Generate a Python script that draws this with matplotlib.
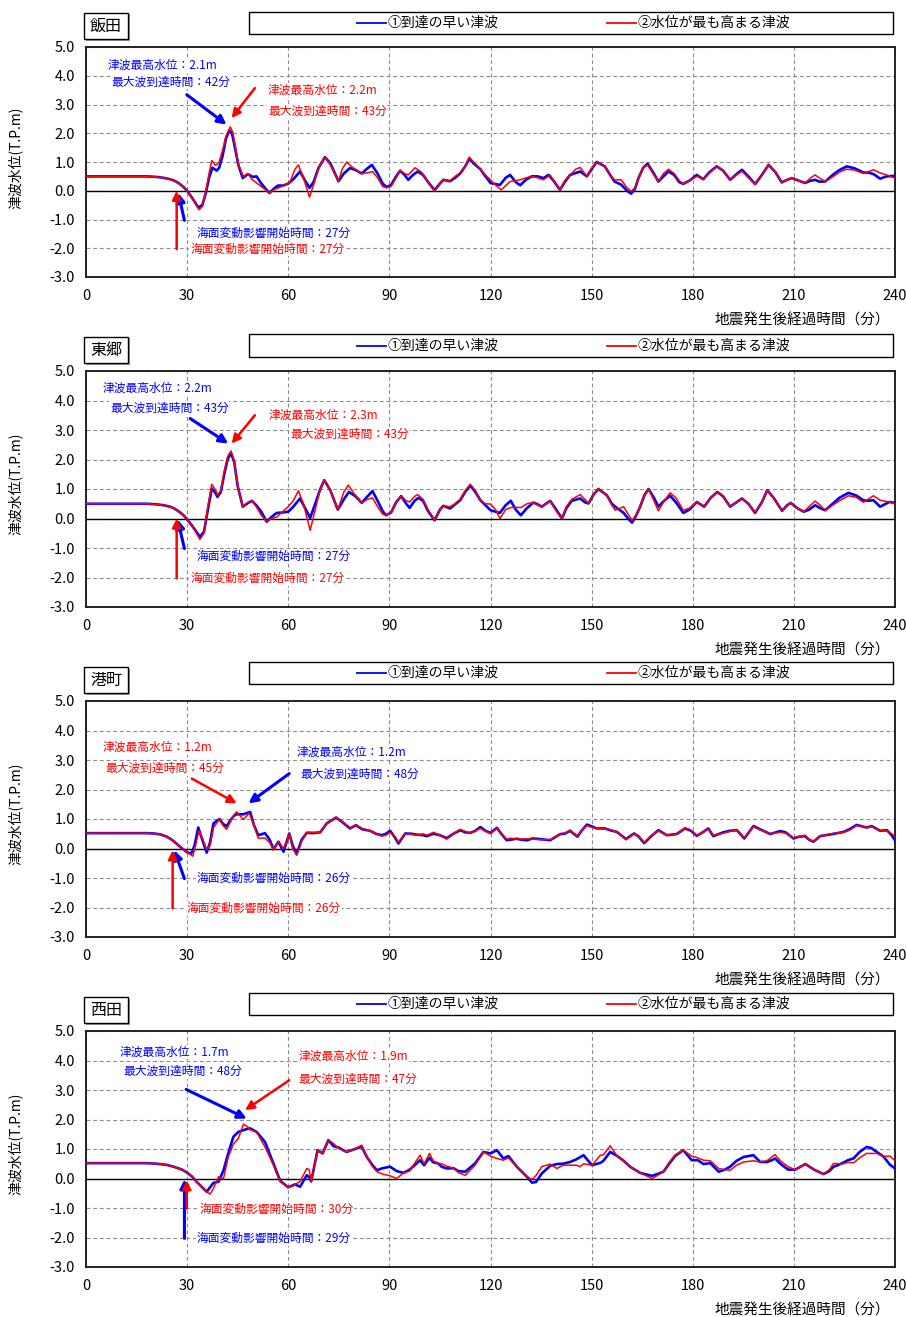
import matplotlib
matplotlib.use("Agg")
import matplotlib.pyplot as plt
from matplotlib.patches import Rectangle
from matplotlib.lines import Line2D

plt.rcParams['font.family'] = ['Noto Sans CJK JP', 'DejaVu Sans']

# ---- data (time in minutes, water level in T.P.m) ----
stations = ["飯田", "東郷", "港町", "西田"]
legend_labels = ["①到達の早い津波", "②水位が最も高まる津波"]
x_ticks = [0, 30, 60, 90, 120, 150, 180, 210, 240]
y_ticks = [-3, -2, -1, 0, 1, 2, 3, 4, 5]

iida_early = [
    (0, 0.5), (10, 0.5), (18, 0.5), (21, 0.48), (23, 0.45), (25, 0.4), (26, 0.36), (27, 0.3),
    (28, 0.22), (29, 0.12), (30, 0.0),
    (31.5, -0.25), (33.3, -0.58), (34.5, -0.5), (35.5, -0.1), (36.5, 0.45), (37.5, 0.8),
    (38.8, 0.7), (39.5, 0.8), (40.5, 1.2), (41.5, 1.8), (42.5, 2.1), (43.3, 2.0), (44.2, 1.5),
    (45.2, 0.9), (46.5, 0.44), (48, 0.58), (49.5, 0.48), (50.6, 0.5), (52, 0.25), (54.4, -0.08),
    (56, 0.1), (57, 0.18), (58.5, 0.18), (60, 0.25), (61.5, 0.4), (63.5, 0.67), (65, 0.35),
    (66.3, 0.1), (67.5, 0.3), (69, 0.8), (70.9, 1.17), (72.5, 0.95), (74.9, 0.33), (76.5, 0.6),
    (78.3, 0.79), (80, 0.72), (81.8, 0.6), (83.2, 0.75), (84.8, 0.9), (86.5, 0.6), (88, 0.25),
    (89.2, 0.13), (90.5, 0.2), (92, 0.5), (93.2, 0.7), (94.5, 0.55), (95.6, 0.38), (97, 0.55),
    (98.4, 0.67), (100, 0.55), (101.5, 0.3), (103.4, 0.02), (105, 0.25), (106, 0.38), (108, 0.33),
    (109.5, 0.45), (111, 0.6), (112.5, 0.85), (113.7, 1.12), (115, 0.95), (117, 0.75),
    (118.5, 0.5), (120, 0.27), (122.8, 0.2), (124.5, 0.45), (125.8, 0.55), (127.5, 0.3),
    (128.8, 0.19), (130.5, 0.38), (132.2, 0.5), (134, 0.5), (135.7, 0.44), (137.2, 0.55),
    (138.7, 0.35), (140.6, 0.03), (142, 0.3), (143.6, 0.55), (146.6, 0.67), (148.6, 0.5),
    (150, 0.75), (151.5, 1.0), (153.9, 0.85), (155.5, 0.55), (156.8, 0.32), (158.8, 0.21),
    (160.5, 0.0), (161.7, -0.1), (162.8, 0.05), (163.9, 0.44), (165.3, 0.8), (166.6, 0.94),
    (168.2, 0.65), (169.8, 0.32), (171.3, 0.5), (172.8, 0.67), (174.5, 0.55), (176, 0.3),
    (177.2, 0.24), (179, 0.35), (181.2, 0.55), (183.1, 0.4), (185, 0.65), (187.1, 0.85),
    (189, 0.7), (191.1, 0.38), (193, 0.58), (194.6, 0.73), (196.5, 0.5), (198.5, 0.23),
    (200.5, 0.55), (202.5, 0.9), (204.5, 0.65), (206.4, 0.29), (208, 0.38), (209.4, 0.44),
    (211.5, 0.35), (213.3, 0.27), (215, 0.35), (216.3, 0.38), (217.5, 0.32), (219.3, 0.32),
    (221.5, 0.55), (223.5, 0.72), (225.7, 0.85), (228, 0.78), (230.6, 0.64), (232.5, 0.62),
    (233.6, 0.58), (235.6, 0.42), (237.5, 0.5), (240, 0.52),
]
iida_high = [
    (0, 0.5), (10, 0.5), (18, 0.5), (21, 0.48), (23, 0.45), (25, 0.4), (26, 0.36), (27, 0.3),
    (28, 0.22), (29, 0.12), (30, 0.0),
    (31.5, -0.25), (33.5, -0.66), (34.5, -0.55), (35.5, -0.05), (36.5, 0.6), (37.3, 1.05),
    (38.5, 0.88), (39.5, 1.0), (40.5, 1.4), (41.5, 1.9), (42.8, 2.22), (43.5, 2.05), (44.3, 1.55),
    (45.2, 0.9), (46.7, 0.5), (48, 0.6), (49.2, 0.4), (50.6, 0.27), (52, 0.15), (54.4, -0.08),
    (56, 0.05), (57.5, 0.12), (59, 0.2), (60.5, 0.3), (62, 0.75), (63, 0.9), (64.5, 0.45),
    (66.3, -0.22), (67.5, 0.2), (69, 0.8), (70.9, 1.17), (72.5, 0.9), (74.9, 0.33), (76, 0.75),
    (77.3, 1.0), (79, 0.82), (81.8, 0.6), (83.5, 0.62), (85, 0.67), (86.5, 0.45), (88, 0.15),
    (89.2, 0.1), (90.5, 0.15), (92, 0.45), (93.2, 0.7), (94.5, 0.6), (95.6, 0.55), (97.6, 0.8),
    (99.5, 0.65), (101.5, 0.3), (103.4, -0.02), (105, 0.25), (106, 0.38), (108, 0.35),
    (109.5, 0.5), (111, 0.62), (112.5, 0.85), (113.7, 1.17), (115, 1.0), (117, 0.75),
    (118.5, 0.55), (120, 0.38), (121, 0.25), (123.2, 0.03), (125.8, 0.32), (128.8, 0.38),
    (130.5, 0.45), (132.2, 0.5), (134, 0.45), (135.7, 0.38), (137.7, 0.55), (139, 0.3),
    (140.6, 0.03), (142, 0.35), (143.6, 0.55), (145.3, 0.75), (146.6, 0.81), (148.6, 0.5),
    (150, 0.8), (151.5, 0.98), (153.9, 0.85), (155.5, 0.55), (156.8, 0.38), (158.8, 0.38),
    (160.5, 0.1), (161.7, -0.02), (162.8, 0.1), (163.9, 0.44), (165.3, 0.8), (166.6, 0.9),
    (168.2, 0.6), (169.8, 0.32), (171.3, 0.6), (172.8, 0.75), (174.5, 0.6), (176, 0.35),
    (177.2, 0.24), (179, 0.35), (181.2, 0.5), (183.1, 0.4), (185, 0.62), (187.1, 0.85),
    (189, 0.7), (191.1, 0.38), (193, 0.55), (194.6, 0.68), (196.5, 0.45), (198.5, 0.23),
    (200.5, 0.55), (202.5, 0.9), (204.5, 0.65), (206.4, 0.29), (208, 0.38), (209.4, 0.44),
    (211.5, 0.35), (213.3, 0.27), (215, 0.45), (216.3, 0.55), (217.5, 0.45), (219.3, 0.32),
    (221.5, 0.48), (223.5, 0.65), (225.7, 0.75), (228, 0.72), (230.6, 0.6), (232.5, 0.68),
    (233.6, 0.73), (235.6, 0.62), (237.5, 0.55), (240, 0.44),
]

togo_early = [
    (0, 0.5), (10, 0.5), (18, 0.5), (21, 0.48), (23, 0.45), (25, 0.4), (26, 0.35), (27, 0.28),
    (28, 0.2), (29, 0.1), (30, -0.03),
    (31.5, -0.25), (33.8, -0.62), (35, -0.45), (36, 0.2), (37.3, 1.02), (38.5, 0.85), (39, 0.73),
    (40, 0.9), (41, 1.5), (42, 2.0), (43, 2.23), (44, 1.9), (45, 1.1), (46.5, 0.4), (48, 0.52),
    (49.2, 0.6), (50.5, 0.45), (52, 0.23), (53.6, -0.11), (55, 0.05), (56.6, 0.19), (58, 0.2),
    (60, 0.23), (61.5, 0.4), (63.5, 0.68), (65, 0.35), (66.5, 0.02), (68, 0.5), (69.5, 1.0),
    (70.7, 1.3), (72.5, 0.95), (74.7, 0.3), (76.5, 0.65), (78, 0.9), (80, 0.75), (81.8, 0.53),
    (83.5, 0.75), (85, 0.93), (86.5, 0.6), (88, 0.25), (89, 0.11), (90.5, 0.2), (92, 0.55),
    (93.5, 0.76), (95, 0.5), (96, 0.36), (97.5, 0.6), (98.6, 0.7), (100, 0.6), (101.5, 0.25),
    (103.4, -0.06), (105, 0.3), (106, 0.43), (108, 0.34), (109.5, 0.48), (111, 0.62),
    (112.5, 0.9), (114, 1.12), (115.5, 0.9), (117, 0.62), (118.5, 0.45), (120, 0.28),
    (122.8, 0.19), (124.5, 0.45), (126, 0.6), (127.5, 0.3), (129, 0.11), (130.8, 0.35),
    (132.7, 0.54), (134, 0.48), (135.2, 0.4), (137.7, 0.6), (139.5, 0.3), (141.2, 0.0),
    (142.5, 0.35), (144.1, 0.6), (146.6, 0.68), (148, 0.55), (149.1, 0.51), (150.5, 0.8),
    (152, 1.0), (154.5, 0.79), (156, 0.5), (157, 0.4), (159.5, 0.19), (160.8, 0.0), (162, -0.14),
    (163.2, 0.1), (164.4, 0.4), (165.7, 0.8), (166.9, 1.0), (168.5, 0.7), (169.8, 0.4),
    (171.5, 0.6), (173.3, 0.77), (175, 0.55), (177.2, 0.19), (179, 0.3), (181.2, 0.56),
    (183.4, 0.4), (185.3, 0.7), (187.3, 0.9), (189, 0.75), (191.1, 0.4), (193, 0.55),
    (194.6, 0.68), (196.5, 0.5), (198.5, 0.19), (200.5, 0.55), (202.1, 0.96), (204, 0.7),
    (206.5, 0.26), (208, 0.45), (209.1, 0.53), (211, 0.35), (212.9, 0.23), (214.5, 0.3),
    (216.3, 0.45), (217.8, 0.35), (219.3, 0.28), (221.5, 0.5), (223.5, 0.7), (226.2, 0.87),
    (228.5, 0.78), (230.6, 0.62), (232, 0.6), (233.6, 0.62), (235.6, 0.4), (238.3, 0.56),
    (240, 0.53),
]
togo_high = [
    (0, 0.5), (10, 0.5), (18, 0.5), (21, 0.48), (23, 0.45), (25, 0.4), (26, 0.35), (27, 0.28),
    (28, 0.2), (29, 0.1), (30, -0.03),
    (31.5, -0.25), (33.8, -0.71), (35, -0.5), (36, 0.3), (37.3, 1.16), (38.5, 0.95), (39, 0.79),
    (40, 0.95), (41, 1.6), (42, 2.1), (43, 2.29), (44, 1.95), (45, 1.1), (46.5, 0.4), (48, 0.55),
    (49.2, 0.6), (50.5, 0.4), (52, 0.11), (53.6, -0.11), (55, 0.0), (56.6, 0.05), (58, 0.2),
    (60, 0.4), (61.5, 0.6), (63, 0.94), (64.5, 0.5), (66.5, -0.4), (68, 0.3), (69.5, 1.0),
    (70.7, 1.3), (72.5, 0.95), (74.7, 0.3), (76.5, 0.9), (77.8, 1.13), (79.5, 0.85),
    (81.8, 0.53), (83.5, 0.65), (85, 0.7), (86.5, 0.4), (88, 0.15), (89, 0.11), (90.5, 0.2),
    (92, 0.55), (93.5, 0.76), (95, 0.6), (96, 0.56), (97.5, 0.75), (98.4, 0.81), (100, 0.65),
    (101.5, 0.3), (103.4, -0.06), (105, 0.3), (106, 0.43), (108, 0.4), (109.5, 0.5), (111, 0.65),
    (112.5, 0.95), (114, 1.16), (115.5, 0.95), (117, 0.62), (118.5, 0.5), (120, 0.49),
    (121.5, 0.3), (122.8, 0.0), (124.5, 0.3), (126, 0.37), (127.5, 0.38), (129, 0.37),
    (130.8, 0.5), (132.7, 0.54), (134, 0.45), (135.2, 0.4), (137.7, 0.6), (139.5, 0.25),
    (141.2, 0.0), (142.5, 0.4), (144.1, 0.65), (146.6, 0.81), (148, 0.65), (149.1, 0.51),
    (150.5, 0.8), (152, 1.02), (154.5, 0.79), (156, 0.45), (157, 0.28), (159.5, 0.4),
    (160.8, 0.15), (162, -0.06), (163.2, 0.1), (164.4, 0.4), (165.7, 0.8), (166.9, 1.0),
    (168.5, 0.6), (169.8, 0.26), (171.5, 0.6), (173.3, 0.87), (175, 0.7), (177.2, 0.28),
    (179, 0.35), (181.2, 0.56), (183.4, 0.4), (185.3, 0.7), (187.3, 0.9), (189, 0.75),
    (191.1, 0.4), (193, 0.55), (194.6, 0.68), (196.5, 0.5), (198.5, 0.19), (200.5, 0.55),
    (202.1, 0.96), (204, 0.7), (206.5, 0.26), (208, 0.45), (209.1, 0.53), (211, 0.35),
    (212.9, 0.23), (214.5, 0.4), (216.3, 0.59), (217.8, 0.45), (219.3, 0.28), (221.5, 0.45),
    (223.5, 0.6), (226.2, 0.77), (228.5, 0.72), (230.6, 0.55), (232, 0.65), (233.6, 0.77),
    (235.6, 0.62), (238.3, 0.56), (240, 0.49),
]

minato_early = [
    (0, 0.52), (10, 0.52), (18, 0.52), (20, 0.51), (22, 0.48), (23, 0.44), (24, 0.4), (25, 0.33),
    (26, 0.25), (27, 0.15), (28, 0.05),
    (30, -0.13), (31.2, -0.17), (32.2, 0.1), (33.3, 0.71), (34.5, 0.3), (35.8, -0.14),
    (36.8, 0.2), (37.8, 0.85), (39.6, 1.0), (40.5, 0.85), (41.7, 0.75), (42.8, 0.95), (44, 1.12),
    (44.7, 1.16), (46.7, 1.16), (48.7, 1.24), (49.8, 0.8), (51.1, 0.45), (53.1, 0.52),
    (54.5, 0.3), (55.6, -0.03), (57.1, 0.23), (58.6, -0.11), (60.3, 0.51), (61.3, 0.1),
    (62.5, -0.18), (64, 0.3), (65.5, 0.53), (67.5, 0.52), (69.5, 0.55), (71.4, 0.85),
    (74.2, 1.05), (76, 0.9), (78.3, 0.68), (80.1, 0.79), (82, 0.65), (84.3, 0.6), (86, 0.5),
    (87.7, 0.45), (89, 0.5), (90.2, 0.6), (91.5, 0.4), (92.7, 0.17), (94.7, 0.51), (96.5, 0.5),
    (98.1, 0.47), (100, 0.45), (101.1, 0.42), (103.1, 0.5), (105, 0.45), (107, 0.35),
    (109, 0.5), (111, 0.62), (112.5, 0.55), (114, 0.53), (115.5, 0.6), (117, 0.73),
    (118.5, 0.6), (120, 0.53), (121.9, 0.7), (123.2, 0.5), (124.8, 0.28), (126, 0.3),
    (127.8, 0.33), (129, 0.3), (130.8, 0.28), (132.5, 0.34), (134.7, 0.32), (137.7, 0.28),
    (140.7, 0.49), (142, 0.5), (143.6, 0.6), (145.8, 0.4), (147, 0.6), (148.6, 0.81),
    (150, 0.75), (151.5, 0.68), (153.9, 0.68), (155.5, 0.62), (157.5, 0.56), (160.2, 0.32),
    (162.6, 0.51), (164, 0.4), (165.6, 0.18), (167.5, 0.4), (169.8, 0.62), (172.3, 0.45),
    (175.2, 0.49), (177.7, 0.68), (179.5, 0.6), (181.2, 0.43), (183, 0.55), (184.6, 0.68),
    (186.1, 0.42), (189.1, 0.55), (191, 0.6), (193.1, 0.62), (195.3, 0.34), (198, 0.76),
    (200, 0.65), (203, 0.49), (205.9, 0.59), (207.5, 0.55), (209.9, 0.34), (211.5, 0.4),
    (213.3, 0.42), (214.5, 0.3), (215.8, 0.23), (217.8, 0.42), (221, 0.48), (224.7, 0.56),
    (226.5, 0.65), (228.6, 0.8), (231.6, 0.71), (233.1, 0.76), (235.6, 0.6), (237.6, 0.62),
    (239, 0.45), (240, 0.28),
]
minato_high = [
    (0, 0.52), (10, 0.52), (18, 0.52), (20, 0.51), (22, 0.48), (23, 0.44), (24, 0.4), (25, 0.33),
    (26, 0.25), (27, 0.15), (28, 0.05),
    (30, -0.13), (31.7, -0.26), (32.5, 0.1), (33.5, 0.6), (34.5, 0.35), (35.8, -0.03),
    (36.8, 0.1), (37.8, 0.7), (39.6, 1.0), (40.5, 0.8), (41.7, 0.65), (42.8, 0.9), (44, 1.15),
    (44.7, 1.24), (46.7, 0.98), (48.4, 1.2), (49.8, 0.8), (51.1, 0.35), (53.1, 0.35),
    (54.5, 0.2), (55.6, -0.05), (57.1, 0.23), (58.6, 0.0), (60.3, 0.5), (61.3, 0.0),
    (62.5, -0.23), (64, 0.25), (65.5, 0.55), (67.5, 0.55), (69.5, 0.55), (71.4, 0.85),
    (74.2, 1.05), (76, 0.92), (78.3, 0.7), (80.1, 0.79), (82, 0.68), (84.3, 0.6), (86, 0.5),
    (87.7, 0.42), (89, 0.45), (90.2, 0.55), (91.5, 0.42), (92.7, 0.22), (94.7, 0.5),
    (96.5, 0.48), (98.1, 0.45), (100, 0.5), (101.1, 0.45), (103.1, 0.55), (105, 0.45),
    (107, 0.32), (109, 0.5), (111, 0.65), (112.5, 0.58), (114, 0.52), (115.5, 0.6),
    (117, 0.68), (118.5, 0.58), (120, 0.5), (121.9, 0.68), (123.2, 0.5), (124.8, 0.32),
    (126, 0.35), (127.8, 0.32), (129, 0.32), (130.8, 0.33), (132.5, 0.32), (134.7, 0.3),
    (137.7, 0.3), (140.7, 0.5), (142, 0.52), (143.6, 0.62), (145.8, 0.42), (147, 0.6),
    (148.6, 0.78), (150, 0.72), (151.5, 0.68), (153.9, 0.66), (155.5, 0.64), (157.5, 0.56),
    (160.2, 0.3), (162.6, 0.5), (164, 0.42), (165.6, 0.2), (167.5, 0.42), (169.8, 0.6),
    (172.3, 0.45), (175.2, 0.5), (177.7, 0.7), (179.5, 0.62), (181.2, 0.45), (183, 0.55),
    (184.6, 0.66), (186.1, 0.45), (189.1, 0.52), (191, 0.58), (193.1, 0.62), (195.3, 0.36),
    (198, 0.74), (200, 0.63), (203, 0.5), (205.9, 0.55), (207.5, 0.52), (209.9, 0.36),
    (211.5, 0.4), (213.3, 0.45), (214.5, 0.3), (215.8, 0.25), (217.8, 0.42), (221, 0.5),
    (224.7, 0.55), (226.5, 0.62), (228.6, 0.78), (231.6, 0.72), (233.1, 0.74), (235.6, 0.6),
    (237.6, 0.6), (239, 0.5), (240, 0.42),
]

nishida_early = [
    (0, 0.52), (10, 0.52), (18, 0.52), (21, 0.5), (24, 0.46), (26, 0.4), (27, 0.36), (28.5, 0.3),
    (30, 0.2), (31.5, 0.06), (32.8, -0.11),
    (34.5, -0.3), (35.8, -0.45), (36.8, -0.3), (37.8, -0.15), (39.3, -0.11), (40.8, 0.28),
    (42.2, 0.85), (43.7, 1.41), (45.2, 1.58), (46.7, 1.64), (47.8, 1.68), (48.7, 1.7),
    (50.6, 1.58), (53.1, 1.24), (55.6, 0.51), (57.6, -0.08), (60, -0.3), (62, -0.2),
    (63.5, -0.28), (65.5, 0.11), (66.2, 0.05), (66.8, -0.1), (68.7, 0.96), (70.2, 0.85),
    (71.9, 1.3), (73.4, 1.1), (74.9, 1.05), (77.3, 0.9), (79.3, 0.98), (81.8, 1.08),
    (83.3, 0.73), (85, 0.45), (86.3, 0.28), (88, 0.35), (90.2, 0.4), (92.2, 0.25), (94.2, 0.19),
    (96, 0.3), (97.5, 0.45), (99.1, 0.62), (100.3, 0.45), (101.9, 0.7), (103, 0.55),
    (104.5, 0.51), (105.5, 0.4), (107, 0.34), (109, 0.35), (110.5, 0.25), (112.5, 0.23),
    (115.4, 0.51), (117.9, 0.9), (120, 0.85), (121.9, 0.96), (123.8, 0.68), (125.3, 0.76),
    (127.8, 0.4), (130.8, 0.06), (132.3, -0.14), (133.5, -0.12), (135.2, 0.17), (137.7, 0.43),
    (139.7, 0.49), (141.5, 0.5), (143.6, 0.56), (145.5, 0.65), (147.6, 0.79), (150.1, 0.45),
    (152.6, 0.53), (153.5, 0.6), (155.5, 0.9), (157.5, 0.77), (159.5, 0.6), (161.4, 0.4),
    (164.4, 0.19), (167.9, 0.09), (169.5, 0.15), (171.3, 0.23), (173, 0.5), (174.8, 0.77),
    (177.2, 0.96), (179.7, 0.62), (181.5, 0.62), (183.2, 0.49), (185.2, 0.52), (187.7, 0.23),
    (189.5, 0.3), (191.1, 0.4), (193, 0.6), (195.1, 0.73), (198, 0.79), (200, 0.56),
    (202, 0.56), (203.5, 0.62), (204.4, 0.68), (206, 0.5), (208.3, 0.3), (210.4, 0.3),
    (213.4, 0.49), (216, 0.3), (218.8, 0.15), (220.5, 0.25), (221.8, 0.4), (223, 0.45),
    (224.7, 0.54), (226, 0.62), (227.7, 0.68), (229.5, 0.9), (231.6, 1.07), (233, 1.03),
    (234.6, 0.9), (236.5, 0.75), (238.5, 0.47), (240, 0.34),
]
nishida_high = [
    (0, 0.52), (10, 0.52), (18, 0.52), (21, 0.5), (24, 0.46), (26, 0.4), (27, 0.36), (28.5, 0.3),
    (30, 0.2), (31.5, 0.06), (32.8, -0.11),
    (34.5, -0.3), (35.8, -0.45), (36.8, -0.53), (37.8, -0.34), (39.3, 0.06), (40.8, 0.0),
    (42.2, 0.73), (43.7, 1.16), (45.2, 1.36), (46.7, 1.84), (48, 1.75), (48.7, 1.65),
    (50.6, 1.58), (53.1, 1.07), (55.6, 0.45), (57.6, -0.1), (60, -0.3), (61.5, -0.25),
    (62, -0.2), (63.5, -0.1), (65.5, 0.34), (66.2, 0.3), (66.8, -0.1), (68.7, 0.96),
    (70.2, 0.85), (71.9, 1.3), (73.4, 1.19), (74.9, 1.02), (77.3, 0.9), (79.3, 0.98),
    (81.8, 1.13), (83.3, 0.73), (85, 0.4), (86.3, 0.23), (88, 0.15), (90.2, 0.09), (92.2, 0.0),
    (94.2, 0.19), (96, 0.25), (97.1, 0.45), (99.1, 0.79), (100.3, 0.5), (101.9, 0.85),
    (103, 0.6), (104.5, 0.51), (105.5, 0.5), (107, 0.42), (109, 0.35), (110.5, 0.2),
    (112.5, 0.11), (115.4, 0.45), (117.9, 0.9), (120, 0.76), (121.9, 0.68), (123.8, 0.62),
    (125.3, 0.7), (127.8, 0.4), (130.8, 0.06), (132.3, -0.03), (133.5, 0.1), (135.2, 0.4),
    (137.7, 0.49), (139.7, 0.34), (141.5, 0.45), (143.6, 0.45), (145.5, 0.45), (146.6, 0.4),
    (147.6, 0.5), (150.1, 0.45), (152.6, 0.79), (153.5, 0.8), (155.5, 1.11), (157.5, 0.77),
    (159.5, 0.6), (161.4, 0.4), (164.4, 0.19), (167.9, 0.0), (169.5, 0.1), (171.3, 0.23),
    (173, 0.55), (174.8, 0.8), (177.2, 0.96), (179.7, 0.76), (181.5, 0.7), (183.2, 0.62),
    (185.2, 0.6), (187.7, 0.34), (189.5, 0.3), (191.1, 0.28), (193, 0.45), (195.1, 0.56),
    (198, 0.6), (200, 0.56), (202, 0.6), (204.4, 0.81), (206, 0.6), (208.3, 0.4), (210.4, 0.3),
    (213.4, 0.49), (216, 0.3), (218.8, 0.15), (220.5, 0.3), (221.8, 0.51), (223, 0.5),
    (224.7, 0.5), (226, 0.55), (227.7, 0.53), (229.5, 0.7), (231.6, 0.85), (233, 0.85),
    (234.6, 0.85), (236.5, 0.75), (238.5, 0.76), (240, 0.6),
]

early_series = [iida_early, togo_early, minato_early, nishida_early]
high_series = [iida_high, togo_high, minato_high, nishida_high]

# annotation values per station
early_max = ["2.1", "2.2", "1.2", "1.7"]
early_peak_time = [42, 43, 48, 48]
early_start = [27, 27, 26, 29]
high_max = ["2.2", "2.3", "1.2", "1.9"]
high_peak_time = [43, 43, 45, 47]
high_start = [27, 27, 26, 30]

# ---- layout (pixel geometry of the reference) ----
W, H = 906, 1317
BLUE = "#0000FF"
RED = "#FF0000"
axes_px = [(47, 277), (371, 607), (701, 937), (1031, 1267)]
legend_px = [(12, 34), (334, 357), (662, 684), (993, 1015)]
title_px = [(13, 39), (337, 363), (667, 693), (997, 1023)]
AX_L, AX_R = 86, 895

# annotation placements in data coords: (text1, text2, arrow tail, arrow head)
peak_early_pos = [
    ((6.5, 4.38), (7.6, 3.78), (29.9, 3.34), (41.7, 2.3)),
    ((4.9, 4.41), (7.1, 3.73), (30.9, 3.39), (42.2, 2.54)),
    ((62.5, 3.28), (63.7, 2.52), (60.3, 2.54), (48.2, 1.53)),
    ((10.1, 4.29), (11.1, 3.62), (29.7, 3.02), (47.7, 2.03)),
]
peak_high_pos = [
    ((54.0, 3.51), (54.0, 2.78), (50.1, 3.57), (43.2, 2.53)),
    ((54.1, 3.5), (60.5, 2.86), (50.1, 3.5), (43.2, 2.54)),
    ((4.9, 3.42), (5.9, 2.71), (31.4, 2.37), (44.7, 1.53)),
    ((63.0, 4.15), (63.0, 3.36), (60.3, 3.33), (47.2, 2.32)),
]
# start arrows: (text, tail, head)
start_early_pos = [
    ((32.8, -1.47), (29.2, -1.03), (27.4, -0.08)),
    ((32.8, -1.3), (29.2, -1.02), (27.2, -0.03)),
    ((32.8, -1.02), (29.2, -1.02), (26.2, -0.06)),
    ((32.8, -2.03), (29.2, -2.03), (29.2, -0.03)),
]
start_high_pos = [
    ((30.9, -2.03), (26.9, -2.03), (26.9, 0.0)),
    ((30.9, -2.03), (26.9, -2.03), (26.9, 0.0)),
    ((29.9, -2.03), (25.7, -2.03), (25.7, -0.06)),
    ((33.6, -1.05), (29.9, -1.02), (29.9, -0.06)),
]

fig = plt.figure(figsize=(W / 100, H / 100), dpi=100)


def fx(x):
    return x / W


def fy(y):
    return 1 - y / H


ANN = 8.5
WHITE_BG = dict(facecolor="white", edgecolor="none", pad=0.5)


def label(ax, xy, s, color):
    ax.text(xy[0], xy[1], s, color=color, fontsize=ANN, va="center", bbox=WHITE_BG, zorder=5)


def arrow(ax, tail, head, color, lw):
    ax.annotate("", xy=head, xytext=tail,
                arrowprops=dict(arrowstyle="-|>", color=color, lw=lw, mutation_scale=13,
                                shrinkA=0, shrinkB=0), zorder=6)


for i, name in enumerate(stations):
    top, bot = axes_px[i]
    ax = fig.add_axes([fx(AX_L), fy(bot), (AX_R - AX_L) / W, (bot - top) / H])
    hpx = bot - top

    te, ve = zip(*early_series[i])
    th, vh = zip(*high_series[i])
    ax.plot(te, ve, color=BLUE, lw=1.9, zorder=3)
    ax.plot(th, vh, color=RED, lw=1.1, zorder=4)
    ax.axhline(0, color="black", lw=1.0, zorder=2)

    ax.set_xlim(0, 240)
    ax.set_ylim(-3, 5)
    ax.set_xticks(x_ticks)
    ax.set_yticks(y_ticks)
    ax.set_yticklabels([f"{v:.1f}" for v in y_ticks])
    ax.tick_params(length=0, labelsize=10.5)
    ax.tick_params(axis="x", pad=9)
    ax.tick_params(axis="y", pad=8)
    ax.grid(True, linestyle=(0, (3.5, 2.5)), color="#8c8c8c", lw=0.8, zorder=1)
    for s in ax.spines.values():
        s.set_linewidth(1.4)
        s.set_color("#222222")

    ax.set_ylabel("津波水位(T.P.m)", fontsize=10)
    ax.yaxis.set_label_coords(-(AX_L - 23) / (AX_R - AX_L), 0.52)
    ax.text(0.994, -44 / hpx, "地震発生後経過時間（分）", transform=ax.transAxes,
            ha="right", va="center", fontsize=10.5)

    # peak annotations
    pe = peak_early_pos[i]
    label(ax, pe[0], f"津波最高水位：{early_max[i]}m", BLUE)
    label(ax, pe[1], f"最大波到達時間：{early_peak_time[i]}分", BLUE)
    arrow(ax, pe[2], pe[3], BLUE, 2.2)
    ph = peak_high_pos[i]
    label(ax, ph[0], f"津波最高水位：{high_max[i]}m", RED)
    label(ax, ph[1], f"最大波到達時間：{high_peak_time[i]}分", RED)
    arrow(ax, ph[2], ph[3], RED, 1.8)

    # start-of-change annotations
    se = start_early_pos[i]
    label(ax, se[0], f"海面変動影響開始時間：{early_start[i]}分", BLUE)
    arrow(ax, se[1], se[2], BLUE, 2.2)
    sh = start_high_pos[i]
    label(ax, sh[0], f"海面変動影響開始時間：{high_start[i]}分", RED)
    arrow(ax, sh[1], sh[2], RED, 1.8)

    # station title box
    t0, t1 = title_px[i]
    fig.patches.append(Rectangle((fx(86), fy(t1 + 1.5)), 44 / W, (t1 - t0) / H,
                                 transform=fig.transFigure, facecolor="#9a9a9a",
                                 edgecolor="none", zorder=1))
    fig.patches.append(Rectangle((fx(84), fy(t1)), 44 / W, (t1 - t0) / H,
                                 transform=fig.transFigure, facecolor="white",
                                 edgecolor="black", lw=1.0, zorder=2))
    fig.text(fx(106), fy((t0 + t1) / 2), name, ha="center", va="center", fontsize=11.5,
             zorder=3)

    # legend box
    l0, l1 = legend_px[i]
    fig.patches.append(Rectangle((fx(249), fy(l1)), (893 - 249) / W, (l1 - l0) / H,
                                 transform=fig.transFigure, facecolor="white",
                                 edgecolor="black", lw=1.0))
    ly = fy((l0 + l1) / 2)
    fig.lines.append(Line2D([fx(357), fx(386)], [ly, ly], color=BLUE, lw=1.3,
                            transform=fig.transFigure))
    fig.text(fx(388), ly, legend_labels[0], ha="left", va="center", fontsize=10)
    fig.lines.append(Line2D([fx(607), fx(636)], [ly, ly], color=RED, lw=1.3,
                            transform=fig.transFigure))
    fig.text(fx(638), ly, legend_labels[1], ha="left", va="center", fontsize=10)

fig.savefig("out.png", dpi=100)
